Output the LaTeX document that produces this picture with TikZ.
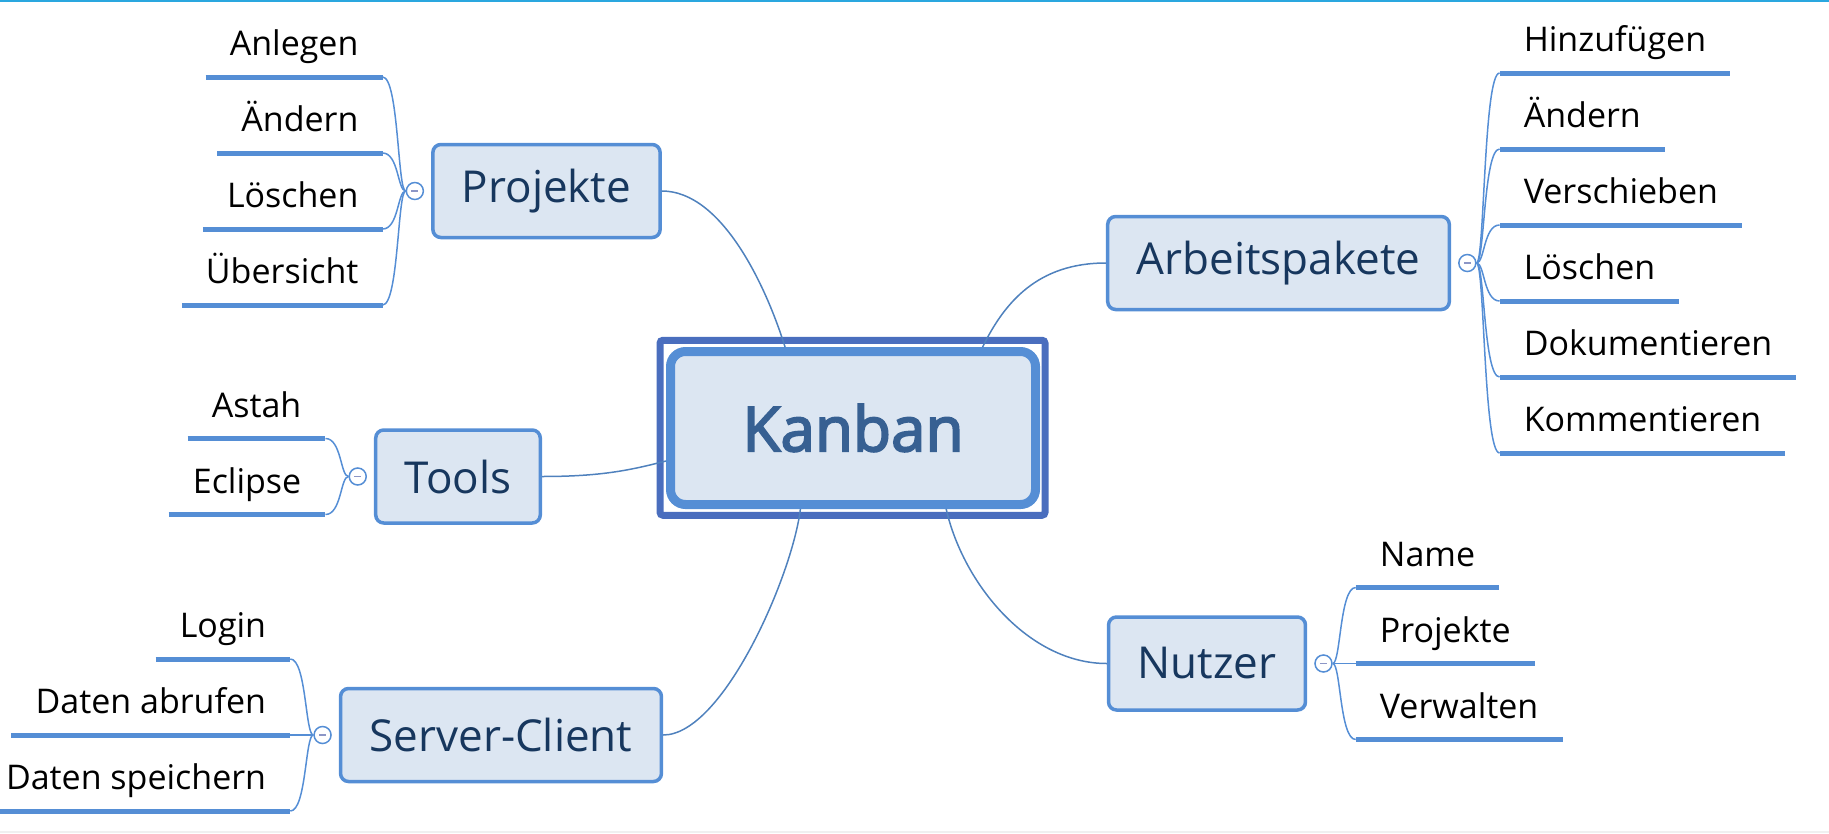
\documentclass[tikz,border=0pt]{standalone}
\usepackage{fontspec}
\setmainfont{Open Sans}
\newfontfamily\kbfont[FakeBold=3]{Open Sans}
\usepackage{xcolor}
\usepackage{tikz}
\usetikzlibrary{positioning}

\definecolor{boxfill}{HTML}{DCE6F2}
\definecolor{boxline}{HTML}{558ED5}
\definecolor{frameline}{HTML}{4A6EBE}
\definecolor{topictext}{HTML}{17375E}
\definecolor{kanbantext}{HTML}{376092}
\definecolor{branch}{HTML}{4F81BD}
\definecolor{minusgray}{HTML}{8C96C6}
\definecolor{topbar}{HTML}{2AA7DF}

\begin{document}
\begin{tikzpicture}[
  x=1pt, y=-1pt,
  center/.style={draw=boxline,line width=9pt,fill=boxfill,rounded corners=15pt,minimum width=365pt,minimum height=153pt,text=kanbantext,font=\kbfont\fontsize{62}{72}\selectfont},
  kframe/.style={draw=frameline,line width=7pt,rounded corners=3pt,minimum width=385pt,minimum height=175pt,inner sep=0pt},
  topic/.style={draw=boxline,line width=3.5pt,fill=boxfill,rounded corners=8pt,inner xsep=29pt,minimum height=93pt,text=topictext,font=\fontsize{44}{52}\selectfont},
  knob/.style={circle,draw=boxline,line width=1.5pt,fill=white,minimum size=17pt,inner sep=0pt,
    path picture={\draw[minusgray,line width=1.5pt] ([xshift=-3.5pt]path picture bounding box.center) -- ([xshift=3.5pt]path picture bounding box.center);}},
  uline/.style={boxline,line width=5pt},
  leaf/.style={inner xsep=24pt,inner ysep=0pt,text height=24pt,text depth=21pt,font=\fontsize{34}{40}\selectfont,
    append after command={(\tikzlastnode.south west) edge[uline] (\tikzlastnode.south east)}},
  branchline/.style={branch,line width=1.5pt},
  twig/.style={boxline,line width=1.5pt}
]
  \useasboundingbox (0,0) rectangle (1829,833);
  \draw[topbar,line width=2pt] (0,1) -- (1829,1);
  \draw[black!6,line width=2pt] (0,832) -- (1829,832);

  % central topic
  \node[kframe] (kbf) at (852.5,427.75) {};
  \node[center] (kb) at (853,428) {Kanban};

  % main topics
  \node[topic] (proj) at (546.5,191) {Projekte};
  \node[topic] (tools) at (458,476.5) {Tools};
  \node[topic] (serv) at (501,735) {Server-Client};
  \node[topic] (arb) at (1278.5,263) {Arbeitspakete};
  \node[topic] (nutz) at (1207,663.5) {Nutzer};

  \node[knob, left=7pt of proj] (pk) {};
  \node[knob, left=7pt of tools] (tk) {};
  \node[knob, left=7pt of serv] (sk) {};
  \node[knob, right=7pt of arb] (ak) {};
  \node[knob, right=7pt of nutz] (nk) {};

  % Projekte
  \node[leaf, above left=114pt and 23pt of pk.west] (p1) {Anlegen};
  \node[leaf, above left=38pt and 23pt of pk.west] (p2) {Ändern};
  \node[leaf, below left=38pt and 23pt of pk.west, anchor=south east] (p3) {Löschen};
  \node[leaf, below left=114pt and 23pt of pk.west, anchor=south east] (p4) {Übersicht};

  % Tools
  \node[leaf, above left=38pt and 23pt of tk.west] (t1) {Astah};
  \node[leaf, below left=38pt and 23pt of tk.west, anchor=south east] (t2) {Eclipse};

  % Server-Client
  \node[leaf, above left=76pt and 23pt of sk.west] (s1) {Login};
  \node[leaf, left=23pt of sk.west, anchor=south east] (s2) {Daten abrufen};
  \node[leaf, below left=76pt and 23pt of sk.west, anchor=south east] (s3) {Daten speichern};

  % Arbeitspakete
  \node[leaf, above right=190pt and 23pt of ak.east] (a1) {Hinzufügen};
  \node[leaf, above right=114pt and 23pt of ak.east] (a2) {Ändern};
  \node[leaf, above right=38pt and 23pt of ak.east] (a3) {Verschieben};
  \node[leaf, below right=38pt and 23pt of ak.east, anchor=south west] (a4) {Löschen};
  \node[leaf, below right=114pt and 23pt of ak.east, anchor=south west] (a5) {Dokumentieren};
  \node[leaf, below right=190pt and 23pt of ak.east, anchor=south west] (a6) {Kommentieren};

  % Nutzer
  \node[leaf, above right=76pt and 23pt of nk.east] (n1) {Name};
  \node[leaf, right=23pt of nk.east, anchor=south west] (n2) {Projekte};
  \node[leaf, below right=76pt and 23pt of nk.east, anchor=south west] (n3) {Verwalten};

  % branches to the centre
  \draw[branchline] (proj.east) .. controls +(60,0) and +(-19,-61) .. (kb.130);
  \draw[branchline] (tools.east) .. controls +(60,0) and +(-35,9) .. (kb.190);
  \draw[branchline] (serv.east) .. controls +(60,0) and +(-8,66) .. (kb.237);
  \draw[branchline] (kb.32) .. controls +(22,-45) and +(-68,0) .. (arb.west);
  \draw[branchline] (kb.319) .. controls +(17,75) and +(-78,0) .. (nutz.west);

  % twigs to the leaves
  \draw[twig] (pk.west) .. controls +(-8,0) and +(16,0) .. (p1.south east);
  \draw[twig] (pk.west) .. controls +(-8,0) and +(16,0) .. (p2.south east);
  \draw[twig] (pk.west) .. controls +(-8,0) and +(16,0) .. (p3.south east);
  \draw[twig] (pk.west) .. controls +(-8,0) and +(16,0) .. (p4.south east);
  \draw[twig] (tk.west) .. controls +(-8,0) and +(16,0) .. (t1.south east);
  \draw[twig] (tk.west) .. controls +(-8,0) and +(16,0) .. (t2.south east);
  \draw[twig] (sk.west) .. controls +(-8,0) and +(16,0) .. (s1.south east);
  \draw[twig] (sk.west) -- (s2.south east);
  \draw[twig] (sk.west) .. controls +(-8,0) and +(16,0) .. (s3.south east);
  \draw[twig] (ak.east) .. controls +(8,0) and +(-16,0) .. (a1.south west);
  \draw[twig] (ak.east) .. controls +(8,0) and +(-16,0) .. (a2.south west);
  \draw[twig] (ak.east) .. controls +(8,0) and +(-16,0) .. (a3.south west);
  \draw[twig] (ak.east) .. controls +(8,0) and +(-16,0) .. (a4.south west);
  \draw[twig] (ak.east) .. controls +(8,0) and +(-16,0) .. (a5.south west);
  \draw[twig] (ak.east) .. controls +(8,0) and +(-16,0) .. (a6.south west);
  \draw[twig] (nk.east) .. controls +(8,0) and +(-16,0) .. (n1.south west);
  \draw[twig] (nk.east) -- (n2.south west);
  \draw[twig] (nk.east) .. controls +(8,0) and +(-16,0) .. (n3.south west);
\end{tikzpicture}
\end{document}
